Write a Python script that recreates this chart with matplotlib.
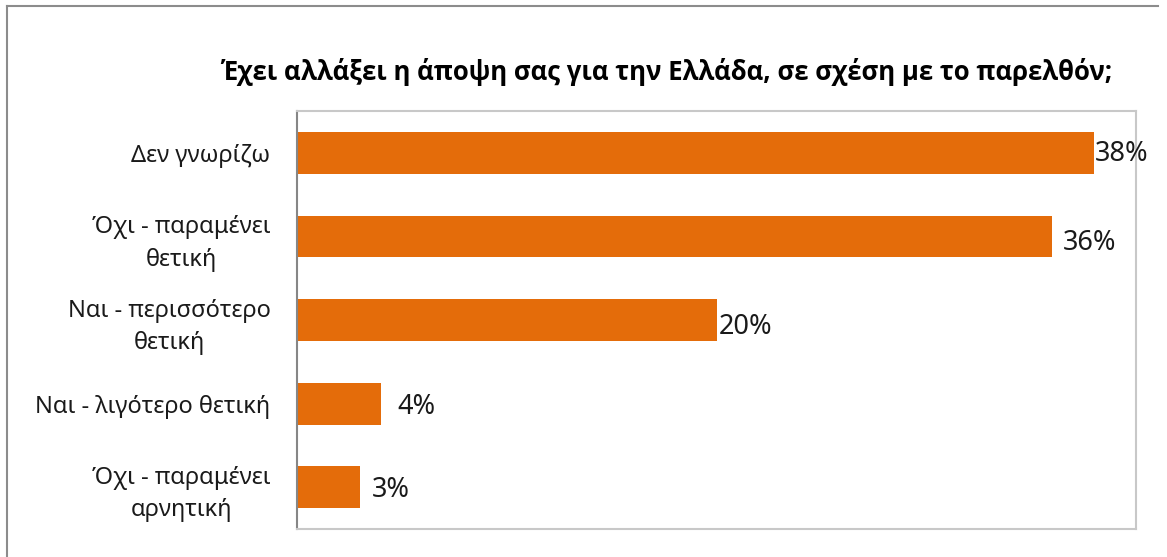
import matplotlib
matplotlib.use('Agg')
import matplotlib.pyplot as plt
from matplotlib.lines import Line2D
import numpy as np

plt.rcParams['font.family'] = ['Noto Sans', 'DejaVu Sans']

# Survey answers, top to bottom
categories = [
    "Δεν γνωρίζω",
    "Όχι - παραμένει\nθετική",
    "Ναι - περισσότερο\nθετική",
    "Ναι - λιγότερο θετική",
    "Όχι - παραμένει\nαρνητική",
]
values = [38, 36, 20, 4, 3]
value_labels = ["38%", "36%", "20%", "4%", "3%"]
title = "Έχει αλλάξει η άποψη σας για την Ελλάδα, σε σχέση με το παρελθόν;"

# label nudges (points) to the right of / below each bar end
label_dx = [0.8, 8, 1.5, 12, 8.6]
label_dy = [-1, -5, -5, -2.5, -2]

bar_color = '#E46C0A'

fig = plt.figure(figsize=(11.67, 5.57), dpi=100)
fig.patch.set_facecolor('white')

# outer chart border (top and left visible)
fig.add_artist(Line2D([7 / 1167, 1158 / 1167], [1 - 6 / 557, 1 - 6 / 557],
                      transform=fig.transFigure, color='#8c8c8c', linewidth=1.5))
fig.add_artist(Line2D([7 / 1167, 7 / 1167], [0, 1 - 6 / 557],
                      transform=fig.transFigure, color='#8c8c8c', linewidth=1.5))

ax = fig.add_axes([297 / 1167, 28 / 557, 839 / 1167, 418 / 557])
y = np.arange(len(categories))
bars = ax.barh(y, values, height=0.5, color=bar_color, edgecolor='none')

ax.set_xlim(0, 40)
ax.set_ylim(len(categories) - 0.5, -0.5)
ax.set_xticks([])
ax.set_yticks(y)
ax.set_yticklabels(categories, fontsize=17, color='#1a1a1a',
                   ha='right', multialignment='center', linespacing=1.45)
ax.tick_params(axis='y', length=0, pad=19)

for side in ['top', 'right', 'bottom']:
    ax.spines[side].set_color('#c8c8c8')
    ax.spines[side].set_linewidth(1.5)
ax.spines['left'].set_color('#868686')
ax.spines['left'].set_linewidth(1.5)

for bar, lab, dx, dy in zip(bars, value_labels, label_dx, label_dy):
    ax.annotate(lab, xy=(bar.get_width(), bar.get_y() + bar.get_height() / 2),
                xytext=(dx, dy), textcoords='offset points',
                ha='left', va='center', fontsize=19.5, color='#1a1a1a',
                annotation_clip=False)

fig.text(667 / 1167, 1 - 72 / 557, title, ha='center', va='center',
         fontsize=18.5, fontweight='bold', color='#000000',
         family=['Open Sans', 'Noto Sans', 'DejaVu Sans'])

fig.savefig('out.png', dpi=100, facecolor='white')
